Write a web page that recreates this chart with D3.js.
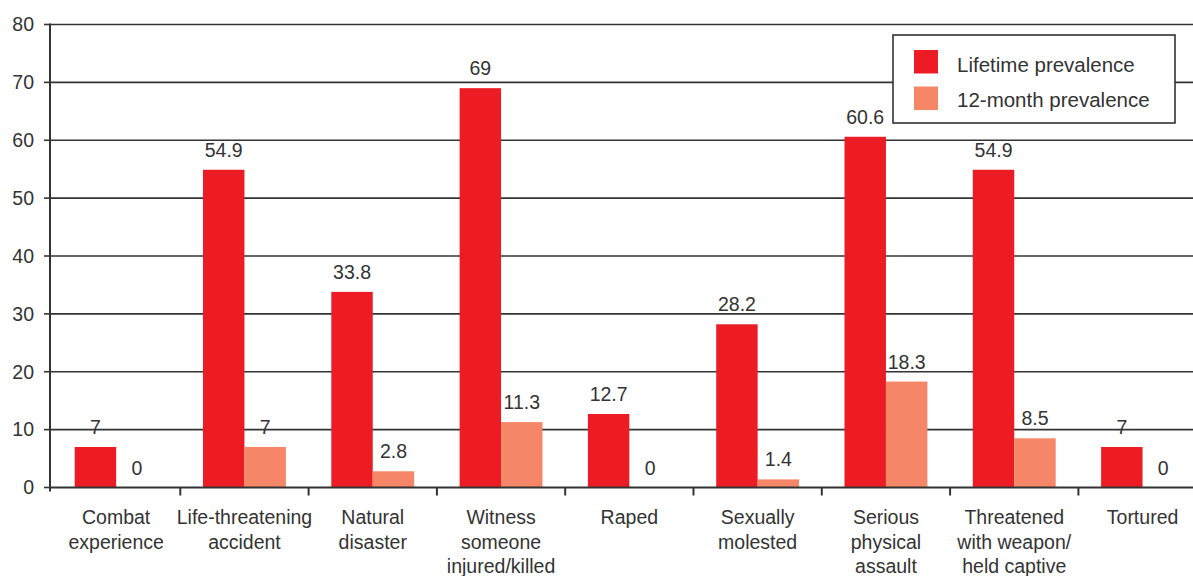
<!DOCTYPE html>
<html>
<head>
<meta charset="utf-8">
<script src="https://cdn.jsdelivr.net/npm/d3@7"></script>
<style>
  html, body { margin: 0; padding: 0; background: #fff; overflow: hidden; }
  svg { display: block; font-family: "Liberation Sans", Arial, Helvetica, sans-serif; }
</style>
</head>
<body>
<svg id="chart" width="1193" height="576"></svg>
<script>
const categories = ["Combat experience", "Life-threatening accident", "Natural disaster",
  "Witness someone injured/killed", "Raped", "Sexually molested",
  "Serious physical assault", "Threatened with weapon/ held captive", "Tortured"];
const categoryLines = [["Combat", "experience"], ["Life-threatening", "accident"], ["Natural", "disaster"],
  ["Witness", "someone", "injured/killed"], ["Raped"], ["Sexually", "molested"],
  ["Serious", "physical", "assault"], ["Threatened", "with weapon/", "held captive"], ["Tortured"]];
const seriesNames = ["Lifetime prevalence", "12-month prevalence"];
const lifetime = [7, 54.9, 33.8, 69, 12.7, 28.2, 60.6, 54.9, 7];
const twelveMonth = [0, 7, 2.8, 11.3, 0, 1.4, 18.3, 8.5, 0];
const yTicks = [0, 10, 20, 30, 40, 50, 60, 70, 80];
const colors = ["#ED1C24", "#F58768"];

const svg = d3.select("#chart");
const left = 50, bandStart = 52, bandStep = 128.3;
const x = d3.scaleBand().domain(categories).range([bandStart, bandStart + bandStep * categories.length]);
const x1 = d3.scaleBand().domain(seriesNames).range([0, x.bandwidth()]).paddingInner(0).paddingOuter(0.548);
const y = d3.scaleLinear().domain([0, 80]).range([487.5, 24.5]);
const textColor = "#333";
const fs = 19.5;

// gridlines
svg.append("g").selectAll("line").data(yTicks.filter(d => d > 0)).join("line")
  .attr("x1", left).attr("x2", 1193)
  .attr("y1", d => y(d)).attr("y2", d => y(d))
  .attr("stroke", "#333").attr("stroke-width", 1.6);

// y tick marks and labels
const yg = svg.append("g");
yg.selectAll("line").data(yTicks).join("line")
  .attr("x1", left - 6).attr("x2", left)
  .attr("y1", d => y(d)).attr("y2", d => y(d))
  .attr("stroke", "#333").attr("stroke-width", 1.6);
yg.selectAll("text").data(yTicks).join("text")
  .attr("x", 34).attr("y", d => y(d)).attr("dy", "0.35em")
  .attr("text-anchor", "end").attr("font-size", fs).attr("fill", textColor)
  .text(d => d);

// bars
const rows = categories.map((c, i) => ({ c, vals: [lifetime[i], twelveMonth[i]] }));
const groups = svg.append("g").selectAll("g").data(rows).join("g")
  .attr("transform", d => `translate(${x(d.c)},0)`);
groups.selectAll("rect").data(d => d.vals.map((v, j) => ({ v, s: seriesNames[j], j }))).join("rect")
  .attr("x", d => x1(d.s)).attr("width", x1.bandwidth())
  .attr("y", d => y(d.v)).attr("height", d => y(0) - y(d.v))
  .attr("fill", d => colors[d.j]);
groups.selectAll("text").data(d => d.vals.map((v, j) => ({ v, s: seriesNames[j], j }))).join("text")
  .attr("x", d => x1(d.s) + x1.bandwidth() / 2)
  .attr("y", d => y(d.v) - 13)
  .attr("text-anchor", "middle").attr("font-size", fs).attr("fill", textColor)
  .text(d => d.v);

// axes lines
svg.append("line").attr("x1", left).attr("x2", left).attr("y1", y(80) - 1).attr("y2", y(0) + 4)
  .attr("stroke", "#333").attr("stroke-width", 2);
svg.append("line").attr("x1", left).attr("x2", 1193).attr("y1", y(0)).attr("y2", y(0))
  .attr("stroke", "#333").attr("stroke-width", 2);
// x ticks at interior band boundaries
const bounds = categories.slice(1).map(c => x(c));
svg.append("g").selectAll("line").data(bounds).join("line")
  .attr("x1", d => d).attr("x2", d => d)
  .attr("y1", y(0)).attr("y2", y(0) + 8)
  .attr("stroke", "#333").attr("stroke-width", 2);

// x labels
const xl = svg.append("g").selectAll("text").data(categories).join("text")
  .attr("text-anchor", "middle").attr("font-size", fs).attr("fill", textColor)
  .attr("transform", d => `translate(${x(d) + x.bandwidth() / 2},524)`);
xl.each(function (d, i) {
  d3.select(this).selectAll("tspan").data(categoryLines[i]).join("tspan")
    .attr("x", 0).attr("y", (t, k) => k * 24.5).text(t => t);
});

// legend
const lg = svg.append("g").attr("transform", "translate(893,35)");
lg.append("rect").attr("width", 282).attr("height", 88)
  .attr("fill", "#fff").attr("stroke", "#333").attr("stroke-width", 1.6);
seriesNames.forEach((s, i) => {
  lg.append("rect").attr("x", 21).attr("y", 15 + i * 36.5).attr("width", 24).attr("height", 23.5)
    .attr("fill", colors[i]);
  lg.append("text").attr("x", 64).attr("y", 36.5 + i * 35.8)
    .attr("font-size", 20.5).attr("fill", textColor).text(s);
});
</script>
</body>
</html>
